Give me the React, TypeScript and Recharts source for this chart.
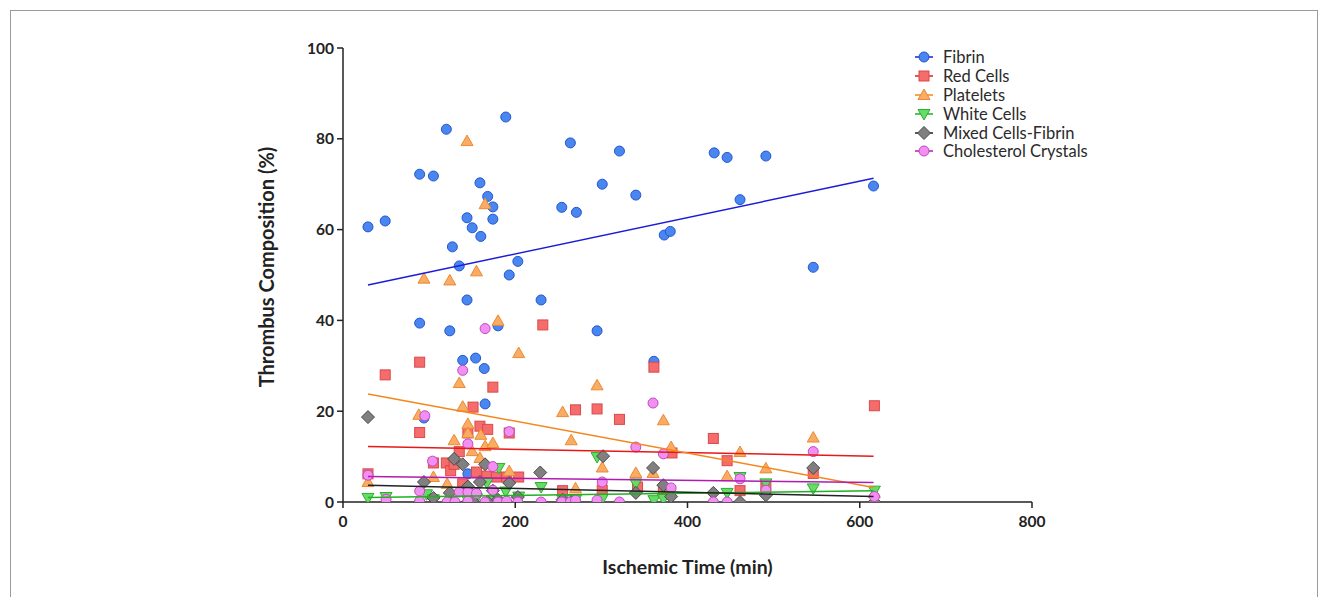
import { ScatterChart, Scatter, XAxis, YAxis, Label } from "recharts";

type Pt = [number, number];

// Ischemic time (min) vs composition (%)
const fibrin: Pt[] = [
  [29, 60.6], [49, 61.9], [89, 72.2], [105, 71.8], [120, 82.1], [89, 39.4], [94, 18.5], [124, 37.7],
  [127, 56.2], [135, 52], [139, 31.2], [144, 62.6], [144, 44.5], [145, 6.2], [150, 60.4], [154, 31.7],
  [159, 70.3], [160, 58.5], [164, 29.4], [165, 21.6], [168, 67.3], [174, 65], [174, 62.3], [180, 38.8],
  [189, 84.8], [193, 50], [203, 53], [230, 44.5], [254, 64.9], [264, 79.1], [271, 63.8], [295, 37.7],
  [301, 70], [321, 77.3], [340, 67.6], [361, 31], [373, 58.8], [380, 59.6], [431, 76.9], [446, 75.9],
  [461, 66.6], [491, 76.2], [546, 51.7], [616, 69.6],
];
const redCells: Pt[] = [
  [29, 6.2], [49, 28], [89, 30.8], [89, 15.3], [105, 8.6], [120, 8.6], [125, 6.9], [129, 8.3],
  [135, 11.1], [139, 4], [145, 15.2], [151, 20.9], [155, 6.6], [159, 16.7], [167, 5.7], [168, 16],
  [174, 25.3], [178, 5.5], [190, 5.5], [193, 15.2], [204, 5.5], [232, 39], [255, 2.5], [270, 20.3],
  [295, 20.5], [301, 2.6], [321, 18.2], [342, 3.3], [361, 29.7], [372, 2.7], [382, 10.8], [430, 14],
  [446, 9.1], [461, 2.5], [491, 3.5], [546, 6.3], [617, 21.2],
];
const platelets: Pt[] = [
  [29, 4.4], [88, 19.2], [94, 49.2], [105, 5.5], [121, 4], [124, 48.8], [129, 13.6], [135, 26.2],
  [139, 21], [144, 79.5], [145, 17.2], [145, 15.2], [150, 11.2], [155, 50.8], [159, 9.7], [160, 14.8],
  [165, 65.6], [165, 12.3], [174, 13], [180, 39.9], [193, 6.8], [204, 32.8], [255, 19.8], [265, 13.6],
  [270, 3], [295, 25.7], [301, 7.6], [340, 6.4], [360, 6.4], [372, 18], [381, 12.1], [446, 5.7],
  [461, 11], [491, 7.4], [546, 14.2], [617, 2],
];
const whiteCells: Pt[] = [
  [29, 0.9], [50, 1.1], [97, 1.7], [105, 0.6], [145, 0.3], [155, 0.8], [167, 4.2], [174, 0.5],
  [181, 7.5], [189, 2.3], [204, 1.2], [230, 3.3], [255, 0.5], [270, 0.5], [295, 9.9], [301, 0.7],
  [340, 4.1], [361, 0.4], [372, 0.7], [446, 2], [461, 5.5], [491, 4.1], [546, 3], [617, 2.5],
];
const mixedCells: Pt[] = [
  [29, 18.7], [94, 4.4], [105, 0.9], [124, 2], [129, 9.5], [139, 8.3], [145, 3.4], [145, 0],
  [150, 0.3], [159, 4.4], [165, 8.3], [168, 0], [174, 2.5], [180, 0.5], [193, 4.2], [203, 1.1],
  [229, 6.5], [255, 0.5], [265, 0], [302, 10.1], [340, 2], [360, 7.5], [372, 3.7], [381, 1.2],
  [430, 2], [461, 0], [491, 1.5], [546, 7.5], [617, 0],
];
const cholesterol: Pt[] = [
  [29, 5.9], [50, 0.6], [89, 2.4], [89, 0.2], [95, 19], [104, 9], [121, 0], [130, 0], [135, 2.2],
  [139, 29], [145, 12.8], [145, 2.2], [145, 0.2], [155, 1.9], [165, 38.2], [165, 0], [174, 7.8],
  [174, 2.6], [180, 0], [190, 0.2], [193, 15.5], [203, 0], [230, 0], [254, 0], [264, 0], [270, 0.4],
  [295, 0.4], [301, 4.4], [321, 0], [340, 12.1], [360, 21.8], [372, 10.6], [381, 3.1], [430, 0],
  [446, 0], [461, 5.1], [491, 2.6], [546, 11.1], [617, 1.2],
];

// linear fit endpoints as drawn in the figure
const fibrinFit: Pt[] = [[29, 47.8], [616, 71.3]];
const redFit: Pt[] = [[29, 12.2], [616, 10.1]];
const plateletFit: Pt[] = [[29, 23.8], [616, 3.2]];
const whiteFit: Pt[] = [[29, 1.0], [616, 2.5]];
const mixedFit: Pt[] = [[29, 3.7], [616, 1.2]];
const cholFit: Pt[] = [[29, 5.6], [616, 4.3]];

const xTicks = [0, 200, 400, 600, 800];
const yTicks = [0, 20, 40, 60, 80, 100];

const toXY = (a: Pt[]) => a.map(([x, y]) => ({ x, y }));

type Kind = "circle" | "square" | "up" | "down" | "diamond";

function marker(kind: Kind, cx: number, cy: number, fill: string, stroke: string) {
  if (kind === "circle") return <circle cx={cx} cy={cy} r={5} fill={fill} stroke={stroke} strokeWidth={1} />;
  if (kind === "square")
    return <rect x={cx - 5} y={cy - 5} width={10} height={10} fill={fill} stroke={stroke} strokeWidth={1} />;
  if (kind === "up")
    return (
      <polygon points={`${cx},${cy - 6} ${cx + 6},${cy + 4.5} ${cx - 6},${cy + 4.5}`} fill={fill} stroke={stroke} strokeWidth={1} />
    );
  if (kind === "down")
    return (
      <polygon points={`${cx},${cy + 6} ${cx + 6},${cy - 4.5} ${cx - 6},${cy - 4.5}`} fill={fill} stroke={stroke} strokeWidth={1} />
    );
  return (
    <polygon
      points={`${cx},${cy - 6.5} ${cx + 6.5},${cy} ${cx},${cy + 6.5} ${cx - 6.5},${cy}`}
      fill={fill}
      stroke={stroke}
      strokeWidth={1}
    />
  );
}

const series = [
  { name: "Fibrin", data: fibrin, fit: fibrinFit, kind: "circle" as Kind, fill: "#4a86f0", stroke: "#2456d0", line: "#1c1cd8" },
  { name: "Red Cells", data: redCells, fit: redFit, kind: "square" as Kind, fill: "#f56c6c", stroke: "#dc4848", line: "#e81818" },
  { name: "Platelets", data: platelets, fit: plateletFit, kind: "up" as Kind, fill: "#f8ac66", stroke: "#ec8a30", line: "#f5861c" },
  { name: "White Cells", data: whiteCells, fit: whiteFit, kind: "down" as Kind, fill: "#66dc66", stroke: "#2cb02c", line: "#20b020" },
  { name: "Mixed Cells-Fibrin", data: mixedCells, fit: mixedFit, kind: "diamond" as Kind, fill: "#808080", stroke: "#4a4a4a", line: "#222222" },
  { name: "Cholesterol Crystals", data: cholesterol, fit: cholFit, kind: "circle" as Kind, fill: "#f290f2", stroke: "#c248c2", line: "#b01cb0" },
];

const font = "Lato, 'Open Sans', sans-serif";

function LegendBox() {
  return (
    <div style={{ position: "absolute", left: 913, top: 48, fontFamily: font, fontSize: 16.5, color: "#2a2a2a" }}>
      {series.map((s) => (
        <div key={s.name} style={{ display: "flex", alignItems: "center", height: 18.8 }}>
          <svg width={22} height={16} style={{ marginRight: 8 }}>
            <line x1={2} y1={8} x2={20} y2={8} stroke={s.line} strokeWidth={1.5} />
            {marker(s.kind, 11, 8, s.fill, s.stroke)}
          </svg>
          <span>{s.name}</span>
        </div>
      ))}
    </div>
  );
}

export default function App() {
  return (
    <div style={{ position: "absolute", left: 0, top: 0, width: 1327, height: 597, overflow: "hidden", background: "#fff" }}>
      <div
        style={{
          position: "absolute",
          left: 10,
          top: 10,
          width: 1306,
          height: 600,
          borderTop: "1px solid #9a9a9a",
          borderLeft: "1px solid #9a9a9a",
          borderRight: "1px solid #9a9a9a",
        }}
      />
      <ScatterChart width={1327} height={597} margin={{ top: 48, right: 295, bottom: 65, left: 283 }}>
        <XAxis
          type="number"
          dataKey="x"
          domain={[0, 800]}
          ticks={xTicks}
          height={30}
          tickSize={6}
          tickMargin={8}
          stroke="#222"
          strokeWidth={1.5}
          tick={{ fill: "#222", fontSize: 15.5, fontWeight: 700, fontFamily: font }}
          allowDataOverflow
        >
          <Label
            value="Ischemic Time (min)"
            position="bottom"
            offset={28}
            style={{ fill: "#222", fontSize: 19.5, fontWeight: 700, fontFamily: font }}
          />
        </XAxis>
        <YAxis
          type="number"
          dataKey="y"
          domain={[0, 100]}
          ticks={yTicks}
          width={60}
          tickSize={6}
          tickMargin={3}
          stroke="#222"
          strokeWidth={1.5}
          tick={{ fill: "#222", fontSize: 15.5, fontWeight: 700, fontFamily: font }}
          allowDataOverflow
        >
          <Label
            content={({ viewBox }: any) => {
              const x = viewBox.x - 17;
              const y = 267;
              return (
                <text
                  x={x}
                  y={y}
                  transform={`rotate(-90, ${x}, ${y})`}
                  textAnchor="middle"
                  dominantBaseline="central"
                  style={{ fill: "#222", fontSize: 20, fontWeight: 700, fontFamily: font }}
                >
                  Thrombus Composition (%)
                </text>
              );
            }}
          />
        </YAxis>
        {series.map((s) => (
          <Scatter
            key={s.name}
            name={s.name}
            data={toXY(s.data)}
            isAnimationActive={false}
            shape={(p: any) => marker(s.kind, p.cx, p.cy, s.fill, s.stroke)}
          />
        ))}
        {series.map((s) => (
          <Scatter
            key={s.name + "-fit"}
            name={s.name + " fit"}
            data={toXY(s.fit)}
            isAnimationActive={false}
            line={{ stroke: s.line, strokeWidth: 1.5 }}
            legendType="none"
            shape={() => <g />}
          />
        ))}
      </ScatterChart>
      <LegendBox />
    </div>
  );
}
